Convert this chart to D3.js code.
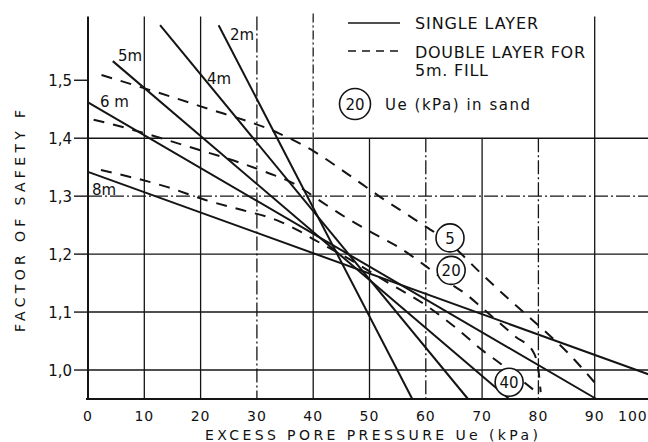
<!DOCTYPE html>
<html>
<head>
<meta charset="utf-8">
<script src="https://cdn.jsdelivr.net/npm/d3@7"></script>
<style>
  html, body { margin: 0; padding: 0; background: #fff; }
  svg { display: block; }
  text { font-family: "DejaVu Sans", sans-serif; fill: #111; }
</style>
</head>
<body>
<div id="chart"></div>
<script>
// Factor of safety F versus excess pore pressure Ue for different fill heights

// Single layer: straight lines, one per fill height
const fillLabels   = ["2m", "4m", "5m", "6 m", "8m"];
const singleStartUe = [23.2, 12.8, 4.4, 0, 0];
const singleStartF  = [1.595, 1.595, 1.533, 1.462, 1.342];
const singleEndUe   = [57.6, 67.5, 74.8, 90.3, 100];
const singleEndF    = [0.95, 0.95, 0.95, 0.95, 0.991];

// Double layer for 5 m fill, one curve per Ue in sand (kPa)
const sandUe = [5, 20, 40];
const doubleUe5  = [2.4, 20, 34, 40, 46, 52, 58, 64.3, 70, 75, 80, 85, 90.3];
const doubleF5   = [1.509, 1.455, 1.408, 1.378, 1.339, 1.298, 1.26, 1.218, 1.165, 1.12, 1.077, 1.032, 0.975];
const doubleUe20 = [1, 7, 20, 26, 32, 36.5, 41.5, 46, 51, 55, 58.5, 61, 64.5, 67, 70, 73, 76, 79, 80, 80.4];
const doubleF20  = [1.432, 1.417, 1.379, 1.361, 1.34, 1.322, 1.29, 1.262, 1.234, 1.213, 1.19, 1.172, 1.148, 1.132, 1.107, 1.082, 1.057, 1.033, 1.0, 0.962];
const doubleUe40 = [2.3, 14, 21, 27.4, 33.4, 37.5, 40, 47, 53.4, 59.2, 65.2, 70.2, 73.4, 76, 79.9];
const doubleF40  = [1.345, 1.316, 1.293, 1.276, 1.259, 1.24, 1.226, 1.188, 1.15, 1.117, 1.074, 1.033, 1.01, 0.99, 0.96];
// Where each sand-pressure circle sits on its curve
const circleUe = [64.3, 64.5, 74.8];
const circleF  = [1.228, 1.172, 0.979];

// Axis ticks
const ueTicks = [0, 10, 20, 30, 40, 50, 60, 70, 80, 90, 100];
const fTicks  = [1.0, 1.1, 1.2, 1.3, 1.4, 1.5];
const fTickLabels = ["1,0", "1,1", "1,2", "1,3", "1,4", "1,5"];

const W = 648, H = 442;
const svg = d3.select("#chart").append("svg").attr("width", W).attr("height", H);

const x = d3.scaleLinear().domain([0, 100]).range([88, 651]);
const y = d3.scaleLinear().domain([0.95, 1.61]).range([399, 16.5]);

const ink = "#141414";
const grid = svg.append("g");

// Horizontal grid lines
const hLines = [1.0, 1.1, 1.2, 1.3, 1.4];
grid.selectAll("line.h").data(hLines).join("line")
  .attr("x1", x(0)).attr("x2", x(100))
  .attr("y1", d => y(d)).attr("y2", d => y(d))
  .attr("stroke", ink).attr("stroke-width", 1.4)
  .attr("stroke-dasharray", d => d === 1.3 ? "14,3,2,3" : null);

// Vertical grid lines: the legend area (Ue 45..85 above F = 1.4) is left open
const dashDot = new Set([30, 60, 80]);
grid.selectAll("line.v").data(ueTicks.filter(d => d > 0)).join("line")
  .attr("x1", d => x(d)).attr("x2", d => x(d))
  .attr("y1", d => (d > 45 && d < 85) ? y(1.4) : y(1.61))
  .attr("y2", y(0.95))
  .attr("stroke", ink).attr("stroke-width", 1.3)
  .attr("stroke-dasharray", d => dashDot.has(d) ? "14,3,2,3" : null);
// Ue = 40 is dash-dotted above F = 1.4
grid.append("line")
  .attr("x1", x(40)).attr("x2", x(40)).attr("y1", y(1.615)).attr("y2", y(1.4))
  .attr("stroke", "#fff").attr("stroke-width", 2);
grid.append("line")
  .attr("x1", x(40)).attr("x2", x(40)).attr("y1", y(1.615)).attr("y2", y(1.4))
  .attr("stroke", ink).attr("stroke-width", 1.2).attr("stroke-dasharray", "9,3,2,3");

// Axes frame
svg.append("line").attr("x1", x(0)).attr("x2", x(0)).attr("y1", y(1.61)).attr("y2", y(0.95))
  .attr("stroke", ink).attr("stroke-width", 2);
svg.append("line").attr("x1", x(0) - 2).attr("x2", W).attr("y1", y(0.95)).attr("y2", y(0.95))
  .attr("stroke", ink).attr("stroke-width", 2.2);

// Y ticks and labels
svg.selectAll("line.yt").data(fTicks).join("line")
  .attr("x1", x(0) - 14).attr("x2", x(0)).attr("y1", d => y(d)).attr("y2", d => y(d))
  .attr("stroke", ink).attr("stroke-width", 1.4);
svg.selectAll("text.yl").data(fTicks).join("text")
  .attr("x", x(0) - 16).attr("y", d => y(d) + 6)
  .attr("text-anchor", "end").attr("font-size", 15)
  .text((d, i) => fTickLabels[i]);

// X labels
svg.selectAll("text.xl").data(ueTicks).join("text")
  .attr("x", d => d === 100 ? 618 : x(d))
  .attr("y", 421)
  .attr("text-anchor", d => d === 100 ? "start" : "middle")
  .attr("font-size", 14).attr("letter-spacing", 1)
  .text(d => d);

// Axis titles
svg.append("text")
  .attr("x", 205).attr("y", 440).attr("font-size", 14)
  .attr("textLength", 333).attr("lengthAdjust", "spacing")
  .text("EXCESS PORE PRESSURE Ue (kPa)");
svg.append("text")
  .attr("transform", "translate(25,332) rotate(-90)")
  .attr("font-size", 14)
  .attr("textLength", 222).attr("lengthAdjust", "spacing")
  .text("FACTOR OF SAFETY F");

// Single layer lines
const marks = svg.append("g");
marks.selectAll("line.single").data(fillLabels).join("line")
  .attr("x1", (d, i) => x(singleStartUe[i])).attr("y1", (d, i) => y(singleStartF[i]))
  .attr("x2", (d, i) => x(singleEndUe[i])).attr("y2", (d, i) => y(singleEndF[i]))
  .attr("stroke", ink).attr("stroke-width", 2);

// Double layer curves
const curves = [
  doubleUe5.map((u, i) => [u, doubleF5[i]]),
  doubleUe20.map((u, i) => [u, doubleF20[i]]),
  doubleUe40.map((u, i) => [u, doubleF40[i]])
];
const lineGen = d3.line().x(d => x(d[0])).y(d => y(d[1])).curve(d3.curveMonotoneX);
marks.selectAll("path.double").data(curves).join("path")
  .attr("d", lineGen).attr("fill", "none")
  .attr("stroke", ink).attr("stroke-width", 2).attr("stroke-dasharray", "11,9");

// Fill height labels
const labelPos = [[230, 40], [207, 84], [118, 61], [100, 107], [92, 195]];
svg.selectAll("text.fill").data(fillLabels).join("text")
  .attr("x", (d, i) => labelPos[i][0]).attr("y", (d, i) => labelPos[i][1])
  .attr("font-size", 15)
  .text(d => d);

// Sand pressure circles on the curves
const circ = svg.selectAll("g.circ").data(sandUe).join("g")
  .attr("transform", (d, i) => `translate(${x(circleUe[i])},${y(circleF[i])})`);
circ.append("circle").attr("r", 14).attr("fill", "#fff")
  .attr("stroke", ink).attr("stroke-width", 1.6);
circ.append("text").attr("text-anchor", "middle").attr("y", 6)
  .attr("font-size", 15).text(d => d);

// Legend
const lg = svg.append("g");
lg.append("line").attr("x1", 348).attr("x2", 400).attr("y1", 23).attr("y2", 23)
  .attr("stroke", ink).attr("stroke-width", 1.6);
lg.append("text").attr("x", 415).attr("y", 29).attr("font-size", 16)
  .attr("textLength", 123).attr("lengthAdjust", "spacing").text("SINGLE LAYER");
lg.append("line").attr("x1", 348).attr("x2", 400).attr("y1", 51).attr("y2", 51)
  .attr("stroke", ink).attr("stroke-width", 1.6).attr("stroke-dasharray", "8,6");
lg.append("text").attr("x", 415).attr("y", 58).attr("font-size", 16)
  .attr("textLength", 170).attr("lengthAdjust", "spacing").text("DOUBLE LAYER FOR");
lg.append("text").attr("x", 415).attr("y", 76).attr("font-size", 16)
  .attr("textLength", 73).attr("lengthAdjust", "spacing").text("5m. FILL");
lg.append("circle").attr("cx", 355).attr("cy", 104).attr("r", 15.5)
  .attr("fill", "#fff").attr("stroke", ink).attr("stroke-width", 1.6);
lg.append("text").attr("x", 355).attr("y", 110).attr("text-anchor", "middle")
  .attr("font-size", 15).text(sandUe[1]);
lg.append("text").attr("x", 385).attr("y", 110).attr("font-size", 15)
  .attr("textLength", 145).attr("lengthAdjust", "spacing").text("Ue (kPa)  in sand");
</script>
</body>
</html>
